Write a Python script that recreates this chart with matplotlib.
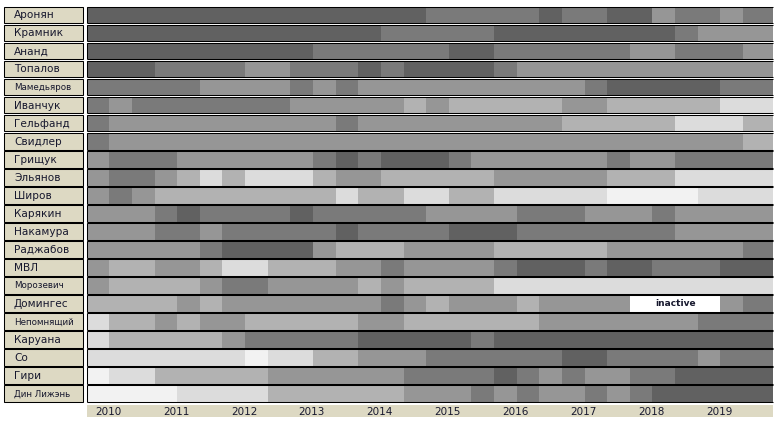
import numpy as np
import matplotlib.pyplot as plt

players = ['Аронян', 'Крамник', 'Ананд', 'Топалов', 'Мамедьяров', 'Иванчук',
           'Гельфанд', 'Свидлер', 'Грищук', 'Эльянов', 'Широв', 'Карякин',
           'Накамура', 'Раджабов', 'МВЛ', 'Морозевич', 'Домингес', 'Непомнящий',
           'Каруана', 'Со', 'Гири', 'Дин Лижэнь']

years = [2010, 2011, 2012, 2013, 2014, 2015, 2016, 2017, 2018, 2019]

# shade level per period (3 periods a year), 1 = darkest, 0 = inactive
levels = [
    '111111111111111 22222 1 22 11 3 22 3 2',
    '1111111111111 22222 11111111 2 333',
    '1111111111 222222 11 222222 33 222 3',
    '111 2222 33 222 1 2 1111 2 33333333333',
    '22222 3333 2 3 2 3333333333 2 11111 22',
    '2 3 2222222 33333 4 3 44444 33 44444 55',
    '2 3333333333 2 333333333 44444 555 4',
    '2 3333333333333333333333333333 4',
    '3 222 333333 2 1 2 111 2 333333 2 33 2222',
    '3 22 3 4 5 4 555 4 33 44444 33333 444 5555',
    '3 2 3 44444444 5 44 55 44 55555 6666 555',
    '333 2 1 2222 1 22222 3333 222 333 2 3333',
    '333 22 3 22222 1 2222 111 2222222 3333',
    '33333 2 1111 3 444 3333 44444 333333 2',
    '3 44 33 4 55 444 33 2 3333 2 111 2 11 222 11',
    '3 4444 3 22 3333 4 3 4444 555555555555',
    '4444 3 4 3333333 2 3 4 333 4 3333 0000 3 2',
    '5 44 3 4 33 44444 33 444444 3333333 222',
    '5 44444 3 22222 11111 2 111111111111',
    '5555555 6 55 44 333 222222 11 2222 3 22',
    '6 55 44444 333333 2222 1 2 3 2 33 22 1111',
    '6666 5555 444444 333 2 3 2 33 2 3 2 11111',
]

palette = {0: '#ffffff', 1: '#616161', 2: '#7a7a7a', 3: '#969696',
           4: '#b2b2b2', 5: '#dcdcdc', 6: '#f2f2f2'}
beige = '#ddd9c3'
ink = '#17182e'

n_cols = 30
col_edges = np.append(np.arange(n_cols), n_cols + 0.33)
right = col_edges[-1]

px_x, x0 = 22.63, 86.7
px_y, y0 = 18.03, 6.0

fig = plt.figure(figsize=(7.76, 4.26), dpi=100)
ax = fig.add_axes([0, 0, 1, 1])
ax.set_xlim(-x0 / px_x, (776 - x0) / px_x)
ax.set_ylim((426 - y0) / px_y, -y0 / px_y)
ax.axis('off')

name_left = (4 - x0) / px_x
name_right = (83 - x0) / px_x
lw = 0.75

for i, (name, row) in enumerate(zip(players, levels)):
    vals = [int(c) for c in row.replace(' ', '')]
    assert len(vals) == n_cols, name

    # merge equal neighbours into runs
    start = 0
    for k in range(1, n_cols + 1):
        if k == n_cols or vals[k] != vals[start]:
            ax.barh(i + 0.5, col_edges[k] - col_edges[start], left=col_edges[start],
                    height=0.92, color=palette[vals[start]], linewidth=0)
            if vals[start] == 0:
                ax.text((col_edges[k] + col_edges[start]) / 2, i + 0.52, 'inactive',
                        ha='center', va='center', fontsize=6.5, fontweight='bold', color=ink)
            start = k

    ax.hlines([i + 0.04, i + 0.96], 0, right, color='black', linewidth=lw)
    ax.vlines(0, i + 0.04, i + 0.96, color='black', linewidth=lw)

    ax.barh(i + 0.5, name_right - name_left, left=name_left, height=0.92,
            color=beige, edgecolor='black', linewidth=lw)
    ax.text((14 - x0) / px_x, i + 0.52, name, ha='left', va='center',
            fontsize=6.3 if len(name) >= 9 else 7.6, color=ink)

# year strip under the grid
ax.barh(22.47, right, left=0, height=0.68, color=beige, linewidth=0)
for k, yr in enumerate(years):
    ax.text(3 * k + 0.95, 22.5, str(yr), ha='center', va='center',
            fontsize=7.5, color=ink)

plt.savefig('out.png', dpi=100)
